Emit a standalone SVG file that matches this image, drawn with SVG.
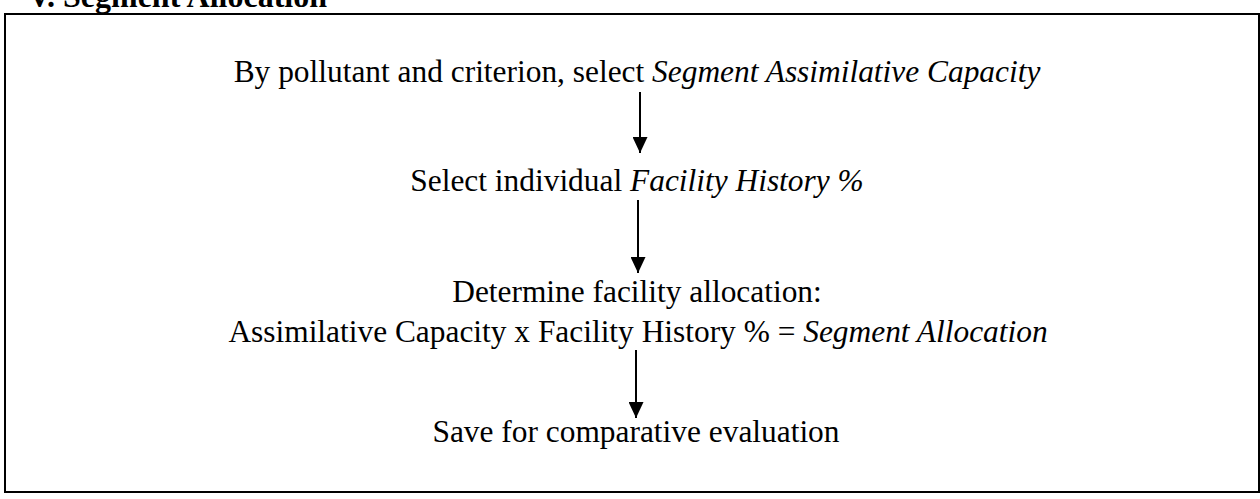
<svg xmlns="http://www.w3.org/2000/svg" width="1260" height="499" viewBox="0 0 1260 499">
<style>
text{font-family:"Liberation Serif","Times New Roman",serif;font-size:31.4px;fill:#000;text-anchor:middle}
.i{font-style:italic}
.title{font-weight:bold;text-anchor:start;font-size:32px}
.frame{fill:none;stroke:#000;stroke-width:2}
.conn{stroke:#000;stroke-width:2;fill:none;marker-end:url(#ah)}
</style>
<defs>
<marker id="ah" viewBox="0 0 16 15" refX="16" refY="7.5" markerWidth="16" markerHeight="15" markerUnits="userSpaceOnUse" orient="auto">
<path d="M0,0 L16,7.5 L0,15 Z" fill="#000"/>
</marker>
</defs>
<text class="title" x="28" y="7">V. Segment Allocation</text>
<rect class="frame" x="5" y="14" width="1254" height="478"/>
<g id="n1"><text x="637" y="82">By pollutant and criterion, select <tspan class="i">Segment Assimilative Capacity</tspan></text></g>
<g id="n2"><text x="637" y="191">Select individual <tspan class="i">Facility History %</tspan></text></g>
<g id="n3"><text x="637" y="302">Determine facility allocation:</text><text x="638" y="342">Assimilative Capacity x Facility History % = <tspan class="i">Segment Allocation</tspan></text></g>
<g id="n4"><text x="636" y="442">Save for comparative evaluation</text></g>
<g id="connectors">
<line class="conn" x1="640" y1="92" x2="640" y2="153"/>
<line class="conn" x1="638" y1="200" x2="638" y2="273"/>
<line class="conn" x1="636" y1="350" x2="636" y2="418"/>
</g>
</svg>
